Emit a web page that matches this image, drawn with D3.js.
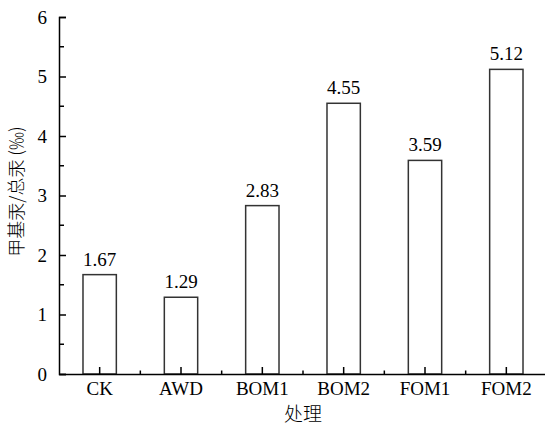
<!DOCTYPE html>
<html>
<head>
<meta charset="utf-8">
<script src="https://cdn.jsdelivr.net/npm/d3@7"></script>
<style>
  body { margin: 0; background: #fff; }
  text { font-family: "Liberation Serif", "Times New Roman", serif; }
</style>
</head>
<body>
<div id="viz"></div>
<script>
const width = 545;
const height = 426;
const margin = {top: 17, right: -2, bottom: 52, left: 59};

// data
const treatments = ['CK', 'AWD', 'BOM1', 'BOM2', 'FOM1', 'FOM2'];
const ratios = [1.67, 1.29, 2.83, 4.55, 3.59, 5.12];
const yTicks = [0, 1, 2, 3, 4, 5, 6];
const yMinorTicks = [0.5, 1.5, 2.5, 3.5, 4.5, 5.5];

const serif = '"Liberation Serif", "Times New Roman", serif';

const svg = d3.select('#viz')
  .append('svg')
  .attr('width', width)
  .attr('height', height);

const x = d3.scaleBand()
  .domain(treatments)
  .range([margin.left, width - margin.right])
  .paddingInner(0.59)
  .paddingOuter(0.295);

const y = d3.scaleLinear()
  .domain([0, 6])
  .range([height - margin.bottom, margin.top]);

// bars
svg.append('g')
  .selectAll('rect')
  .data(ratios)
  .join('rect')
    .attr('x', (d, i) => x(treatments[i]))
    .attr('y', d => y(d))
    .attr('width', x.bandwidth())
    .attr('height', d => y(0) - y(d))
    .attr('fill', 'white')
    .attr('stroke', '#333')
    .attr('stroke-width', 1.5);

// value labels
svg.append('g')
  .selectAll('text')
  .data(ratios)
  .join('text')
    .attr('x', (d, i) => x(treatments[i]) + x.bandwidth() / 2)
    .attr('y', d => y(d) - 9)
    .attr('text-anchor', 'middle')
    .style('font-size', '19px')
    .style('font-family', serif)
    .text(d => d.toFixed(2));

// y axis, ticks pointing inward
const yAxis = svg.append('g')
  .attr('transform', `translate(${margin.left},0)`)
  .call(d3.axisLeft(y).tickValues(yTicks).tickSize(-7).tickPadding(12).tickFormat(d3.format('d')));
yAxis.selectAll('text').style('font-size', '19px').style('font-family', serif).attr('fill', '#000');
yAxis.selectAll('line').attr('stroke-width', 1.5);
yAxis.select('.domain').attr('stroke-width', 1.5);

svg.append('g')
  .selectAll('line')
  .data(yMinorTicks)
  .join('line')
    .attr('x1', margin.left)
    .attr('x2', margin.left + 5)
    .attr('y1', d => y(d))
    .attr('y2', d => y(d))
    .attr('stroke', '#000')
    .attr('stroke-width', 1.5);

// x axis, ticks pointing inward
const xAxis = svg.append('g')
  .attr('transform', `translate(0,${height - margin.bottom})`)
  .call(d3.axisBottom(x).tickSize(-7).tickSizeOuter(0).tickPadding(8));
xAxis.selectAll('text').style('font-size', '19px').style('font-family', serif).attr('fill', '#000');
xAxis.selectAll('line').attr('stroke-width', 1.5);
xAxis.select('.domain').attr('stroke-width', 1.5);

// small ticks between categories
const gapX = d => x(d) - x.step() * x.paddingInner() / 2;
svg.append('g')
  .selectAll('line')
  .data(treatments.slice(1))
  .join('line')
    .attr('x1', gapX)
    .attr('x2', gapX)
    .attr('y1', y(0))
    .attr('y2', y(0) - 3.5)
    .attr('stroke', '#000')
    .attr('stroke-width', 1.5);

// axis titles
svg.append('text')
  .attr('x', (margin.left + width - margin.right) / 2)
  .attr('y', 421)
  .attr('text-anchor', 'middle')
  .style('font-size', '19px')
  .style('font-weight', 300)
  .style('font-family', '"Noto Sans CJK SC", serif')
  .text('处理');

svg.append('text')
  .attr('transform', `translate(23,${(y(0) + y(6)) / 2 - 4}) rotate(-90)`)
  .attr('text-anchor', 'middle')
  .style('font-size', '18px')
  .style('font-weight', 300)
  .style('font-family', '"Noto Sans CJK SC", serif')
  .text('甲基汞/总汞 (‰)');
</script>
</body>
</html>
